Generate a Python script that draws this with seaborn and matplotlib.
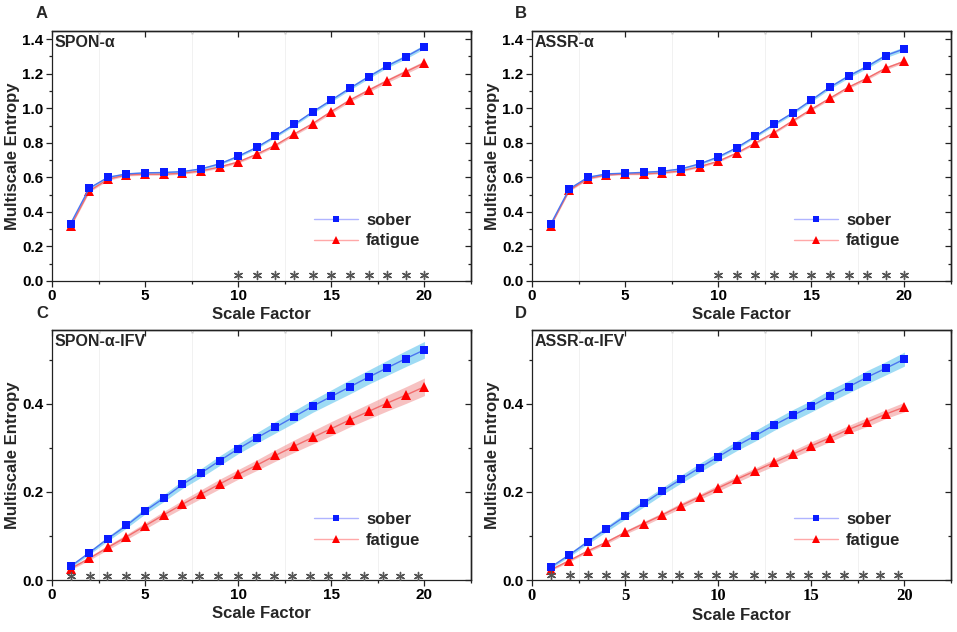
import numpy as np
import pandas as pd
import matplotlib
matplotlib.use("Agg")
import matplotlib.pyplot as plt
import seaborn as sns
from matplotlib.ticker import MultipleLocator, FormatStrFormatter
from matplotlib.lines import Line2D

scale = list(range(1, 21))

# Panel A: SPON-alpha
a_sober = [0.332, 0.537, 0.600, 0.620, 0.626, 0.628, 0.633, 0.649, 0.678, 0.722,
           0.774, 0.838, 0.906, 0.979, 1.047, 1.116, 1.182, 1.245, 1.298, 1.357]
a_fatigue = [0.317, 0.521, 0.589, 0.614, 0.618, 0.618, 0.624, 0.637, 0.660, 0.689,
             0.734, 0.786, 0.850, 0.911, 0.981, 1.047, 1.104, 1.159, 1.211, 1.263]
a_sober_se = [0.006, 0.007, 0.007, 0.006, 0.006, 0.006, 0.006, 0.006, 0.007, 0.007,
              0.008, 0.008, 0.009, 0.009, 0.010, 0.010, 0.011, 0.011, 0.012, 0.012]
a_fatigue_se = [0.006, 0.007, 0.007, 0.006, 0.006, 0.006, 0.006, 0.006, 0.007, 0.007,
                0.008, 0.008, 0.009, 0.009, 0.010, 0.010, 0.011, 0.011, 0.012, 0.012]
a_stars = [10, 11, 12, 13, 14, 15, 16, 17, 18, 19, 20]

# Panel B: ASSR-alpha
b_sober = [0.328, 0.533, 0.600, 0.620, 0.624, 0.629, 0.635, 0.649, 0.678, 0.718,
           0.772, 0.838, 0.907, 0.973, 1.047, 1.122, 1.186, 1.242, 1.305, 1.344]
b_fatigue = [0.319, 0.525, 0.593, 0.614, 0.620, 0.620, 0.626, 0.637, 0.662, 0.693,
             0.741, 0.799, 0.859, 0.927, 0.994, 1.058, 1.122, 1.174, 1.232, 1.272]
b_sober_se = [0.006, 0.007, 0.007, 0.006, 0.006, 0.006, 0.006, 0.006, 0.007, 0.007,
              0.008, 0.008, 0.009, 0.009, 0.010, 0.010, 0.011, 0.011, 0.012, 0.012]
b_fatigue_se = [0.005, 0.006, 0.006, 0.005, 0.005, 0.005, 0.005, 0.005, 0.006, 0.006,
                0.006, 0.007, 0.007, 0.007, 0.008, 0.008, 0.008, 0.009, 0.009, 0.009]
b_stars = [10, 11, 12, 13, 14, 15, 16, 17, 18, 19, 20]

# Panel C: SPON-alpha-IFV
c_sober = [0.031, 0.062, 0.094, 0.124, 0.157, 0.186, 0.217, 0.243, 0.271, 0.298,
           0.323, 0.347, 0.371, 0.395, 0.417, 0.439, 0.461, 0.482, 0.503, 0.523]
c_fatigue = [0.026, 0.049, 0.074, 0.098, 0.123, 0.148, 0.172, 0.195, 0.218, 0.240,
             0.261, 0.283, 0.304, 0.324, 0.344, 0.364, 0.383, 0.402, 0.420, 0.439]
c_sober_se = [0.003, 0.004, 0.005, 0.006, 0.007, 0.008, 0.009, 0.010, 0.011, 0.011,
              0.012, 0.013, 0.014, 0.014, 0.015, 0.016, 0.016, 0.017, 0.018, 0.019]
c_fatigue_se = [0.003, 0.004, 0.005, 0.006, 0.007, 0.008, 0.009, 0.010, 0.011, 0.011,
                0.012, 0.013, 0.014, 0.015, 0.016, 0.016, 0.017, 0.018, 0.019, 0.020]
c_stars = [1, 2.04, 2.97, 3.95, 4.97, 5.96, 6.96, 7.89, 8.89, 10, 10.96, 11.9,
           12.88, 13.86, 14.8, 15.78, 16.78, 17.75, 18.7, 19.64]

# Panel D: ASSR-alpha-IFV
d_sober = [0.029, 0.057, 0.087, 0.116, 0.145, 0.174, 0.202, 0.229, 0.255, 0.280,
           0.305, 0.328, 0.352, 0.374, 0.395, 0.418, 0.439, 0.461, 0.481, 0.502]
d_fatigue = [0.023, 0.044, 0.066, 0.086, 0.108, 0.128, 0.148, 0.169, 0.189, 0.209,
             0.229, 0.248, 0.267, 0.286, 0.305, 0.323, 0.342, 0.359, 0.377, 0.393]
d_sober_se = [0.003, 0.004, 0.005, 0.006, 0.007, 0.008, 0.008, 0.009, 0.010, 0.010,
              0.011, 0.012, 0.012, 0.013, 0.013, 0.014, 0.014, 0.015, 0.015, 0.016]
d_fatigue_se = [0.002, 0.003, 0.003, 0.004, 0.004, 0.005, 0.005, 0.006, 0.006, 0.007,
                0.007, 0.007, 0.008, 0.008, 0.009, 0.009, 0.009, 0.010, 0.010, 0.011]
d_stars = [1, 2.04, 3.0, 3.97, 4.97, 5.97, 6.96, 7.91, 8.91, 9.86, 10.79, 11.9,
           12.88, 13.87, 14.81, 15.78, 16.78, 17.75, 18.71, 19.64]

panels = [
    ("A", "SPON-α", a_sober, a_fatigue, a_sober_se, a_fatigue_se, a_stars, 1.447, 0.2, 0.1, 0.036),
    ("B", "ASSR-α", b_sober, b_fatigue, b_sober_se, b_fatigue_se, b_stars, 1.447, 0.2, 0.1, 0.036),
    ("C", "SPON-α-IFV", c_sober, c_fatigue, c_sober_se, c_fatigue_se, c_stars, 0.568, 0.2, 0.1, 0.010),
    ("D", "ASSR-α-IFV", d_sober, d_fatigue, d_sober_se, d_fatigue_se, d_stars, 0.568, 0.2, 0.1, 0.011),
]

sns.set_style("ticks")
plt.rcParams["font.family"] = ["Liberation Sans", "DejaVu Sans"]
plt.rcParams["font.weight"] = "bold"
plt.rcParams["axes.labelweight"] = "bold"

fig = plt.figure(figsize=(9.57, 6.32), dpi=100)

W, H = 957.0, 632.0
positions = {
    "A": (52, 31, 471, 281),
    "B": (532, 31, 951, 281),
    "C": (52, 330, 471, 580),
    "D": (532, 330, 951, 580),
}
letter_pos = {"A": (42, 13), "B": (521, 13), "C": (42, 314), "D": (521, 314)}

blue_mark = "#0a1cff"
blue_line = "#4a74f0"
blue_band = "#5ec3ee"
red_mark = "#ff0000"
red_line = "#f26d6d"
red_band = "#f29a9a"

for letter, title, s, f, sse, fse, stars, ytop, ymaj, ymin, stary in panels:
    l, t, r, b = positions[letter]
    ax = fig.add_axes([l / W, 1 - b / H, (r - l) / W, (b - t) / H])
    x = np.array(scale, dtype=float)
    s_arr, f_arr = np.array(s), np.array(f)
    sse_arr, fse_arr = np.array(sse), np.array(fse)

    ax.fill_between(x, s_arr - sse_arr, s_arr + sse_arr, color=blue_band, alpha=0.6, lw=0, zorder=2)
    ax.fill_between(x, f_arr - fse_arr, f_arr + fse_arr, color=red_band, alpha=0.6, lw=0, zorder=2)

    df = pd.DataFrame({
        "Scale Factor": np.concatenate([x, x]),
        "MSE": np.concatenate([s_arr, f_arr]),
        "group": ["sober"] * len(x) + ["fatigue"] * len(x),
    })
    sns.lineplot(data=df[df.group == "sober"], x="Scale Factor", y="MSE", ax=ax,
                 color=blue_line, lw=1.0, marker="s", markersize=5.5,
                 markerfacecolor=blue_mark, markeredgecolor=blue_mark, markeredgewidth=0,
                 errorbar=None, legend=False, zorder=4)
    sns.lineplot(data=df[df.group == "fatigue"], x="Scale Factor", y="MSE", ax=ax,
                 color=red_line, lw=1.0, marker="^", markersize=6.5,
                 markerfacecolor=red_mark, markeredgecolor=red_mark, markeredgewidth=0,
                 errorbar=None, legend=False, zorder=3)

    star_df = pd.DataFrame({"x": stars, "y": [stary] * len(stars)})
    sns.scatterplot(data=star_df, x="x", y="y", ax=ax, marker=(6, 2, 0), s=34,
                    color="#555555", linewidth=1.0, legend=False, zorder=5)

    ax.set_xlim(0, 22.5)
    ax.set_ylim(0, ytop)
    ax.xaxis.set_major_locator(MultipleLocator(5))
    ax.xaxis.set_minor_locator(MultipleLocator(2.5))
    ax.yaxis.set_major_locator(MultipleLocator(ymaj))
    ax.yaxis.set_minor_locator(MultipleLocator(ymin))
    ax.yaxis.set_major_formatter(FormatStrFormatter("%.1f"))
    ax.grid(which="minor", axis="x", color="#efefef", lw=0.6)
    ax.grid(which="major", axis="x", visible=False)

    ax.tick_params(which="both", direction="out", top=False, right=False,
                   width=0.9, colors="#222222", labelcolor="black")
    ax.tick_params(which="major", length=4, labelsize=11, pad=2)
    ax.tick_params(which="minor", length=2.5)
    for lab in ax.get_xticklabels() + ax.get_yticklabels():
        lab.set_fontweight("bold")
    if letter == "D":
        for lab in ax.get_xticklabels():
            lab.set_fontfamily("Liberation Serif")
            lab.set_fontsize(12)

    # mirrored inward ticks on top / right
    secx = ax.secondary_xaxis("top")
    secx.xaxis.set_major_locator(MultipleLocator(5))
    secx.xaxis.set_minor_locator(MultipleLocator(2.5))
    secx.tick_params(which="both", direction="in", labeltop=False, width=0.9, colors="#222222")
    secx.tick_params(which="major", length=4)
    secx.tick_params(which="minor", length=2.5)
    secy = ax.secondary_yaxis("right")
    secy.yaxis.set_major_locator(MultipleLocator(ymaj))
    secy.yaxis.set_minor_locator(MultipleLocator(ymin))
    secy.tick_params(which="both", direction="in", labelright=False, width=0.9, colors="#222222")
    secy.tick_params(which="major", length=4)
    secy.tick_params(which="minor", length=2.5)
    for sp in list(ax.spines.values()) + list(secx.spines.values()) + list(secy.spines.values()):
        sp.set_linewidth(0.9)
        sp.set_color("#222222")
        sp.set_visible(True)

    ax.set_xlabel("Scale Factor", fontsize=12, fontweight="bold", labelpad=3)
    ax.set_ylabel("Multiscale Entropy", fontsize=12, fontweight="bold", labelpad=2)

    ax.text(0.005, 0.985, title, transform=ax.transAxes, ha="left", va="top",
            fontsize=11.5, fontweight="bold", zorder=6)

    handles = [
        Line2D([], [], color="#b0b4ff", lw=1.0, marker="s", markersize=5,
               markerfacecolor=blue_mark, markeredgewidth=0),
        Line2D([], [], color="#ffa8a8", lw=1.0, marker="^", markersize=6,
               markerfacecolor=red_mark, markeredgewidth=0),
    ]
    ax.legend(handles, ["sober", "fatigue"], loc="lower right",
              bbox_to_anchor=(0.915, 0.07), frameon=False, handlelength=2.6,
              handletextpad=0.5, labelspacing=0.35, prop={"size": 12, "weight": "bold"})

    lx, ly = letter_pos[letter]
    fig.text(lx / W, 1 - ly / H, letter, ha="center", va="center",
             fontsize=12, fontweight="bold")

fig.savefig("out.png", dpi=100)
